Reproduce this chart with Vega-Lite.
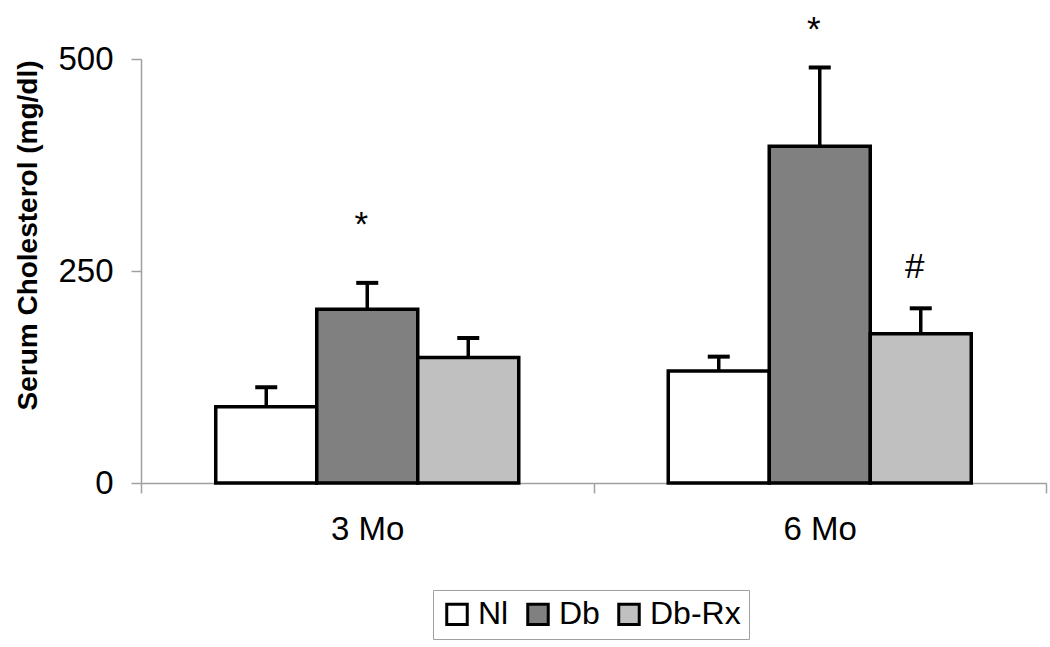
{
  "$schema": "https://vega.github.io/schema/vega-lite/v6.json",
  "autosize": "none",
  "width": 905,
  "height": 424,
  "padding": {"left": 141, "top": 59, "right": 4, "bottom": 164},
  "background": "white",
  "config": {
    "view": {"stroke": null},
    "font": "Liberation Sans",
    "axis": {"grid": false, "domainColor": "#a0a0a0", "tickColor": "#a0a0a0", "domainWidth": 1.5, "tickWidth": 1.5, "labelColor": "black", "labelFont": "Liberation Sans", "titleFont": "Liberation Sans"}
  },
  "datasets": {
    "bars": [
      {"time": "3 Mo", "group": "Nl", "value": 90, "upper": 113},
      {"time": "3 Mo", "group": "Db", "value": 205, "upper": 236},
      {"time": "3 Mo", "group": "Db-Rx", "value": 148, "upper": 171},
      {"time": "6 Mo", "group": "Nl", "value": 132, "upper": 149},
      {"time": "6 Mo", "group": "Db", "value": 397, "upper": 490},
      {"time": "6 Mo", "group": "Db-Rx", "value": 176, "upper": 206}
    ],
    "notes": [
      {"time": "3 Mo", "group": "Db", "labelY": 291, "text": "*"},
      {"time": "6 Mo", "group": "Db", "labelY": 521, "text": "*"},
      {"time": "6 Mo", "group": "Db-Rx", "labelY": 241.5, "text": "#"}
    ]
  },
  "encoding": {
    "x": {
      "field": "time", "type": "nominal",
      "scale": {"paddingInner": 0, "paddingOuter": 0},
      "axis": {"title": null, "labelAngle": 0, "labelFontSize": 33, "tickSize": 10, "tickBand": "extent", "labelPadding": 20}
    },
    "xOffset": {
      "field": "group", "type": "nominal",
      "scale": {"domain": ["Nl", "Db", "Db-Rx"], "paddingInner": 0, "paddingOuter": 0.74}
    }
  },
  "layer": [
    {
      "data": {"name": "bars"},
      "mark": {"type": "bar", "stroke": "black", "strokeWidth": 3.5, "opacity": 1},
      "encoding": {
        "y": {
          "field": "value", "type": "quantitative",
          "scale": {"domain": [0, 500], "nice": false},
          "axis": {"values": [0, 250, 500], "title": "Serum Cholesterol (mg/dl)", "titleFontSize": 28, "titleFontWeight": "bold", "titleColor": "black", "titleX": -99, "titleY": 176, "titleAngle": -90, "titleBaseline": "bottom", "titleAlign": "center", "labelFontSize": 33, "tickSize": 10, "labelPadding": 18}
        },
        "fill": {
          "field": "group", "type": "nominal",
          "scale": {"domain": ["Nl", "Db", "Db-Rx"], "range": ["#ffffff", "#808080", "#c0c0c0"]},
          "legend": {
            "title": null, "orient": "none", "direction": "horizontal",
            "legendX": 292, "legendY": 531,
            "strokeColor": "#a0a0a0", "padding": 8,
            "symbolType": "square", "symbolSize": 420,
            "symbolStrokeColor": "black", "symbolStrokeWidth": 3, "symbolOpacity": 1,
            "labelFontSize": 32, "labelColor": "black", "labelOffset": 5,
            "columnPadding": 12, "labelFont": "Liberation Sans"
          }
        }
      }
    },
    {
      "data": {"name": "bars"},
      "mark": {"type": "rule", "strokeWidth": 3.5, "color": "black"},
      "encoding": {
        "y": {"field": "value", "type": "quantitative"},
        "y2": {"field": "upper"}
      }
    },
    {
      "data": {"name": "bars"},
      "mark": {"type": "tick", "size": 22, "thickness": 4, "color": "black", "opacity": 1},
      "encoding": {
        "y": {"field": "upper", "type": "quantitative"}
      }
    },
    {
      "data": {"name": "notes"},
      "mark": {"type": "text", "fontSize": 35, "baseline": "alphabetic", "align": "center", "dx": -6, "color": "black", "font": "Liberation Sans"},
      "encoding": {
        "y": {"field": "labelY", "type": "quantitative"},
        "text": {"field": "text"}
      }
    }
  ]
}
